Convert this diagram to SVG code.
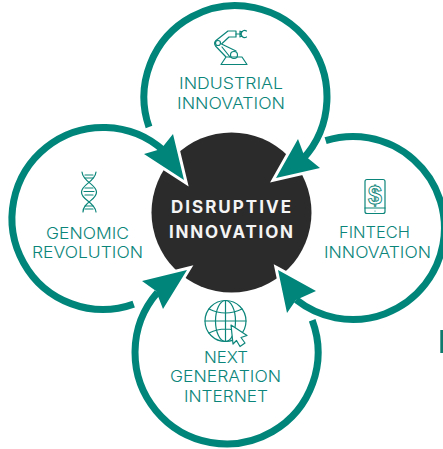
<svg xmlns="http://www.w3.org/2000/svg" width="443" height="449" viewBox="0 0 443 449">
<style>
.arc{fill:none;stroke:#00857a;stroke-width:7}
.halo{fill:#fff;stroke:#fff;stroke-width:6;stroke-linejoin:miter;stroke-miterlimit:12}
.head{fill:#00857a}
.lbl{font-family:"Inter","Liberation Sans",sans-serif;font-size:16px;fill:#0b857a;font-weight:350}
.ctr{font-family:"Inter","Liberation Sans",sans-serif;font-size:17px;fill:#f4f4f4;font-weight:700}
.ic{fill:none;stroke:#0b857a;stroke-width:1.200;stroke-linejoin:round;stroke-linecap:round}
</style>
<rect width="443" height="449" fill="#fff"/>
<g id="center">
<circle cx="231.500" cy="212.500" r="80" fill="#2b2b2b"/>
<text class="ctr" x="171" y="213" textLength="120" lengthAdjust="spacing">DISRUPTIVE</text>
<text class="ctr" x="169" y="238" textLength="124" lengthAdjust="spacing">INNOVATION</text>
</g>
<g id="connectors">
<polygon class="halo" points="184,180 173,134 161,149 144,154"/>
<polygon class="halo" points="276,178 298,139 304,155 320,168"/>
<polygon class="halo" points="278,270 316,291 296,300 287,313"/>
<polygon class="halo" points="187,270 142,281 156,291 163,309"/>
<path class="arc" d="M149,127 A91.500,91.500 0 1 1 302.400,159.500"/>
<path class="arc" d="M133.700,304.100 A91,91 0 1 1 164,150.900"/>
<path class="arc" d="M325.600,140.700 A91.500,91.500 0 1 1 296.200,299.800"/>
<path class="arc" d="M312.200,320.300 A91.500,91.500 0 1 1 157.400,292.500"/>
<polygon class="head" points="184,180 173,134 161,149 144,154"/>
<polygon class="head" points="276,178 298,139 304,155 320,168"/>
<polygon class="head" points="278,270 316,291 296,300 287,313"/>
<polygon class="head" points="187,270 142,281 156,291 163,309"/>
</g>
<g id="industrial">
<path class="ic" d="M221,64.500H247L242,57H226ZM226,57 L215.500,46Q213.500,43 216,40.500L228,31H236V37H229L221.500,44L236,51"/>
<path class="ic" d="M222,47L230,57M236,34H240"/>
<circle class="ic" cx="218" cy="43" r="2.500"/>
<circle class="ic" cx="234" cy="55" r="3.500"/>
<path class="ic" d="M240,31.500H242.500M240,36.500H242.500M240,31V37M246.500,31A3.500,3.500 0 1 0 246.500,37"/>
<text class="lbl" x="179" y="89" textLength="104" lengthAdjust="spacingAndGlyphs">INDUSTRIAL</text>
<text class="lbl" x="177" y="109" textLength="108" lengthAdjust="spacingAndGlyphs">INNOVATION</text>
</g>
<g id="genomic">
<path class="ic" d="M82,172C83,182 96,184 96.500,192C97,200 83,202 83,212M96,172C95,182 82,184 81.500,192C81,200 95,202 96,212"/>
<path class="ic" d="M85,175H93M85,178H93M85,188H93M84,191.500H94M85,195H93M85,206H93M85,209H93"/>
<text class="lbl" x="46" y="239" textLength="83" lengthAdjust="spacingAndGlyphs">GENOMIC</text>
<text class="lbl" x="32" y="258" textLength="111" lengthAdjust="spacingAndGlyphs">REVOLUTION</text>
</g>
<g id="fintech">
<rect class="ic" x="365" y="179.500" width="20" height="34" rx="2"/>
<path class="ic" d="M365,208H385"/>
<circle cx="375" cy="211" r="0.600" fill="#0b857a"/>
<text x="375" y="204" text-anchor="middle" font-family="'Liberation Sans',sans-serif" font-size="25" font-weight="700" fill="#fff" stroke="#0b857a" stroke-width="0.900">$</text>
<text class="lbl" x="339" y="238" textLength="71" lengthAdjust="spacingAndGlyphs">FINTECH</text>
<text class="lbl" x="324" y="258" textLength="107" lengthAdjust="spacingAndGlyphs">INNOVATION</text>
</g>
<g id="internet">
<circle class="ic" cx="225.500" cy="321" r="20.500"/>
<ellipse class="ic" cx="225.500" cy="321" rx="10" ry="20.500"/>
<path class="ic" d="M225.500,300.500V341.500M205,321H246M209,309Q225.500,317 242,309M209,333Q225.500,325 242,333"/>
<polygon points="231,325 247,335.500 241,337.500 245,343 240,346.500 236.500,340.500 233,344" fill="#fff" stroke="#0b857a" stroke-width="1.200" stroke-linejoin="round"/>
<text class="lbl" x="204" y="363" textLength="44" lengthAdjust="spacingAndGlyphs">NEXT</text>
<text class="lbl" x="170" y="382" textLength="111" lengthAdjust="spacingAndGlyphs">GENERATION</text>
<text class="lbl" x="184" y="402" textLength="84" lengthAdjust="spacingAndGlyphs">INTERNET</text>
</g>
<rect x="440.300" y="330" width="2.700" height="23" fill="#0d7a6d"/>
</svg>
